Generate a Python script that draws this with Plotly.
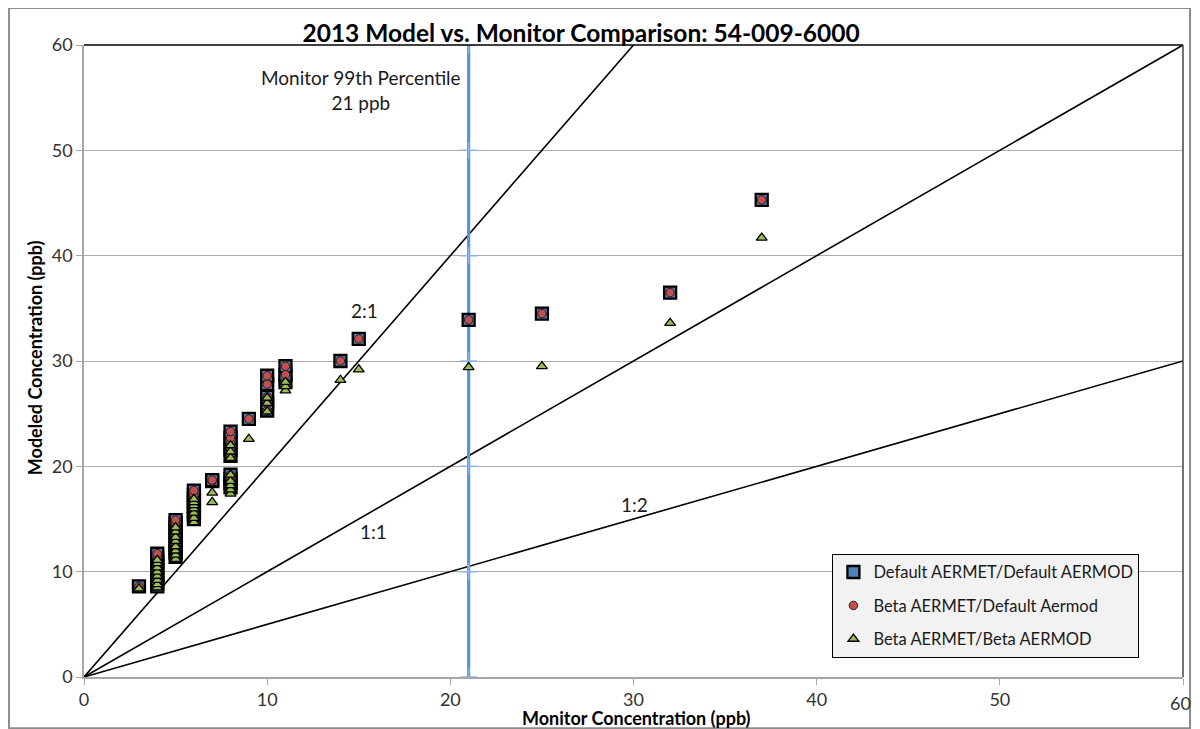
import plotly.graph_objects as go

# ---------------- data ----------------
monitor_default = [3,
                   4, 4, 4, 4, 4, 4, 4, 4, 4,
                   5, 5, 5, 5, 5, 5, 5, 5, 5, 5,
                   6, 6, 6, 6, 6, 6, 6, 6,
                   7, 7,
                   8, 8, 8, 8, 8, 8, 8, 8, 8,
                   9,
                   10, 10, 10, 10, 10,
                   11, 11, 11,
                   14, 15, 21, 25, 32, 37]
default_aermod = [8.6,
                  8.6, 8.9, 9.3, 9.7, 10.1, 10.5, 10.9, 11.3, 11.7,
                  11.4, 11.8, 12.2, 12.6, 13.0, 13.4, 13.8, 14.2, 14.6, 14.9,
                  15.0, 15.4, 15.8, 16.2, 16.6, 17.0, 17.3, 17.7,
                  18.6, 18.7,
                  18.0, 18.4, 18.8, 19.2, 21.0, 21.6, 22.2, 22.7, 23.3,
                  24.5,
                  25.3, 26.0, 26.6, 27.8, 28.6,
                  28.0, 28.7, 29.5,
                  30.0, 32.1, 33.9, 34.5, 36.5, 45.3]
beta_default_aermod = [8.6,
                       8.6, 8.9, 9.3, 9.7, 10.1, 10.5, 10.9, 11.3, 11.7,
                       11.4, 11.8, 12.2, 12.6, 13.0, 13.4, 13.8, 14.2, 14.6, 14.9,
                       15.0, 15.4, 15.8, 16.2, 16.6, 17.0, 17.3, 17.7,
                       18.6, 18.7,
                       18.0, 18.4, 18.8, 19.2, 21.0, 21.6, 22.2, 22.7, 23.3,
                       24.5,
                       25.3, 26.0, 26.6, 27.8, 28.6,
                       28.0, 28.7, 29.5,
                       30.0, 32.1, 33.9, 34.5, 36.5, 45.3]
monitor_beta = [3,
                4, 4, 4, 4, 4, 4, 4, 4,
                5, 5, 5, 5, 5, 5, 5, 5,
                6, 6, 6, 6, 6, 6, 6,
                7, 7,
                8, 8, 8, 8, 8, 8, 8, 8,
                9,
                10, 10, 10,
                11, 11, 11,
                14, 15, 21, 25, 32, 37]
beta_aermod = [8.4,
               8.5, 8.8, 9.2, 9.6, 10.0, 10.4, 10.8, 11.1,
               11.2, 11.6, 12.0, 12.4, 12.9, 13.3, 13.8, 14.2,
               14.7, 15.1, 15.6, 16.0, 16.3, 16.6, 16.9,
               16.6, 17.5,
               17.4, 17.8, 18.2, 18.6, 19.2, 20.8, 21.4, 22.0,
               22.6,
               25.2, 26.0, 26.5,
               27.2, 27.6, 28.0,
               28.2, 29.2, 29.4, 29.5, 33.6, 41.7]

ratio_labels = ["2:1", "1:1", "1:2"]
ratios = [2.0, 1.0, 0.5]
monitor_99th = 21
axis_max = 60
tick_vals = [0, 10, 20, 30, 40, 50, 60]
x_tick_text = ["0", "10", "20", "30", "40", "50", ""]   # last label drawn as annotation

FONT = "Lato, 'Open Sans', sans-serif"

fig = go.Figure()

# ratio lines
for r in ratios:
    x_end = min(axis_max, axis_max / r)
    fig.add_trace(go.Scatter(x=[0, x_end], y=[0, x_end * r], mode="lines",
                             line=dict(color="black", width=1.6),
                             showlegend=False, hoverinfo="skip"))

# monitor 99th percentile line
fig.add_trace(go.Scatter(x=[monitor_99th] * len(tick_vals), y=tick_vals,
                         mode="lines+markers",
                         line=dict(color="#5A93DA", width=3.2),
                         marker=dict(symbol="cross-thin", size=12,
                                     line=dict(color="#8DB4E6", width=1.5)),
                         showlegend=False, hoverinfo="skip"))

fig.add_trace(go.Scatter(x=monitor_default, y=default_aermod, mode="markers",
                         name="Default AERMET/Default AERMOD", legendgroup="a",
                         marker=dict(symbol="square", size=12, color="#4F81BD",
                                     line=dict(color="black", width=2.3))))
fig.add_trace(go.Scatter(x=monitor_default, y=beta_default_aermod, mode="markers",
                         name="Beta AERMET/Default Aermod", legendgroup="b",
                         marker=dict(symbol="circle", size=8.5, color="#C0504D",
                                     line=dict(color="#2a1a1a", width=1))))
fig.add_trace(go.Scatter(x=monitor_beta, y=beta_aermod, mode="markers",
                         name="Beta AERMET/Beta AERMOD", legendgroup="c",
                         marker=dict(symbol="triangle-up", size=9.5, color="#9BBB59",
                                     line=dict(color="black", width=1.3))))

annots = [
    dict(x=15.34, y=34.84, text="2:1"),
    dict(x=15.78, y=13.86, text="1:1"),
    dict(x=30.03, y=16.33, text="1:2"),
    dict(x=15.12, y=55.7, text="Monitor 99th Percentile<br>21 ppb"),
]
for a in annots:
    fig.add_annotation(x=a["x"], y=a["y"], xref="x", yref="y", text=a["text"],
                       xanchor="center", yanchor="middle",
                       showarrow=False, font=dict(family=FONT, size=19, color="#1a1a1a"))

# last x tick label (kept as text at the axis end)
fig.add_annotation(x=tick_vals[-1], y=-0.0411, xref="x", yref="paper",
                   text=str(tick_vals[-1]), xanchor="center", yanchor="middle",
                   xshift=-3,
                   showarrow=False, font=dict(family=FONT, size=18, color="#333333"))

fig.add_annotation(x=0.5023, y=-0.0655, xref="paper", yref="paper",
                   xanchor="center", yanchor="middle",
                   text="<b>Monitor Concentration (ppb)</b>", showarrow=False,
                   font=dict(family=FONT, size=18, color="black"))
fig.add_annotation(x=-0.0446, y=0.506, xref="paper", yref="paper",
                   xanchor="center", yanchor="middle",
                   text="<b>Modeled Concentration (ppb)</b>", showarrow=False, textangle=-90,
                   font=dict(family=FONT, size=18, color="black"))

# frame lines
fig.add_shape(type="line", xref="paper", yref="paper", x0=0, x1=1, y0=1, y1=1,
              line=dict(color="black", width=1.5))
fig.add_shape(type="line", xref="paper", yref="paper", x0=1, x1=1, y0=0, y1=1,
              line=dict(color="#444444", width=1.5))
fig.add_shape(type="rect", xref="paper", yref="paper", x0=-0.0682, x1=1.0064,
              y0=-0.081, y1=1.0585, line=dict(color="#8c8c8c", width=2),
              fillcolor="rgba(0,0,0,0)", layer="below")

fig.update_layout(
    width=1184, height=721,
    margin=dict(l=76, r=9, t=37, b=52),
    paper_bgcolor="white", plot_bgcolor="white",
    font=dict(family=FONT, size=18, color="#333333"),
    title=dict(text="<b>2013 Model vs. Monitor Comparison: 54-009-6000</b>",
               x=0.4840, xanchor="center", xref="container",
               y=1 - 25 / 721, yanchor="middle", yref="container",
               font=dict(family=FONT, size=24.5, color="black")),
    xaxis=dict(range=[0, axis_max], tickvals=tick_vals, ticktext=x_tick_text,
               showgrid=False,
               zeroline=False, showline=True, linecolor="#A6A6A6", linewidth=1.5,
               ticks="outside", ticklen=6, tickcolor="#A6A6A6",
               tickfont=dict(family=FONT, size=18, color="#333333")),
    yaxis=dict(range=[0, axis_max], tickvals=tick_vals, showgrid=True,
               gridcolor="#ABABAB", gridwidth=1.2,
               zeroline=False, showline=True, linecolor="#A6A6A6", linewidth=1.5,
               ticks="outside", ticklen=6, tickcolor="#A6A6A6",
               tickfont=dict(family=FONT, size=18, color="#333333")),
    legend=dict(x=0.681, y=0.195, xanchor="left", yanchor="top",
                bgcolor="#F2F2F2", bordercolor="black", borderwidth=1,
                font=dict(family=FONT, size=16.5, color="#1a1a1a"),
                tracegroupgap=9, traceorder="grouped"),
    showlegend=True,
)

fig.write_html("out.html")
